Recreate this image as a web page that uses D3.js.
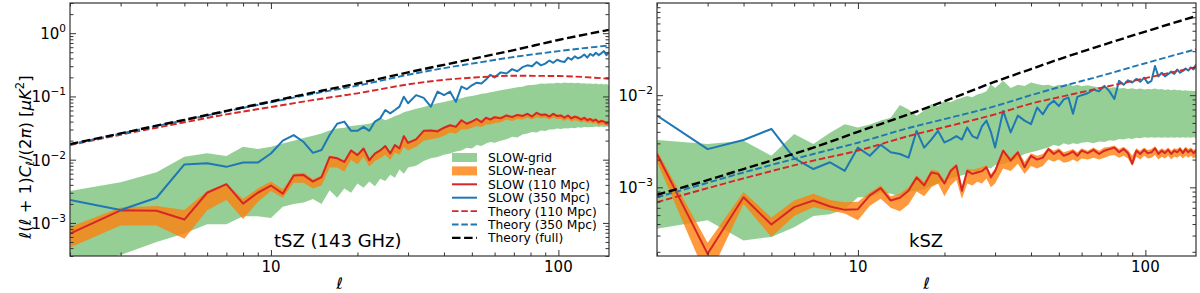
<!DOCTYPE html>
<html><head><meta charset="utf-8">
<script src="https://cdn.jsdelivr.net/npm/d3@7"></script>
<style>
body{margin:0;background:#fff}
svg{display:block}
text{font-family:"DejaVu Sans",sans-serif;fill:#000}
</style>
</head><body>
<svg id="c" width="1200" height="293"></svg>
<script>
// ---------------- DATA ----------------
const ell = [2,3,4,5,6,7,8,9,10,11,12,13,14,15,16,17,18,19,20,21,22,23,24,25,26,27,28,29,30,
  32,34,36,38,40,42,44,46,48,50,52,54,56,58,60,
  63,66,69,72,75,78,81,84,87,90,93,96,99,102,105,108,111,114,117,120,123,126,129,132,135,138,141,144,147,150];

// tSZ (143 GHz)
const tszSlow350 = [2.3e-3,1.6e-3,2.5e-3,8.4e-3,8.8e-3,7.7e-3,9.0e-3,9.0e-3,1.25e-2,2.0e-2,2.45e-2,1.9e-2,1.28e-2,1.42e-2,2.45e-2,3.7e-2,4.0e-2,2.86e-2,2.86e-2,3.3e-2,2.86e-2,4.0e-2,4.5e-2,6.1e-2,5.4e-2,6.1e-2,6.9e-2,9.9e-2,7.8e-2,
  0.105,0.095,0.069,0.119,0.105,0.119,0.082,0.143,0.13,0.15,0.165,0.16,0.185,0.22,0.2,
  0.24,0.23,0.27,0.25,0.29,0.31,0.30,0.35,0.31,0.33,0.37,0.34,0.38,0.36,0.35,0.41,0.38,0.43,0.40,0.42,0.46,0.41,0.47,0.44,0.49,0.45,0.48,0.52,0.45,0.50];
const tszSlow110 = [6.8e-4,1.58e-3,1.56e-3,1.13e-3,3.0e-3,4.1e-3,2.02e-3,3.0e-3,3.9e-3,2.9e-3,5.6e-3,5.7e-3,4.5e-3,5.3e-3,1.1e-2,1.05e-2,9.2e-3,1.4e-2,1.18e-2,1.5e-2,9.8e-3,1.25e-2,1.4e-2,1.64e-2,1.25e-2,1.7e-2,1.5e-2,2.36e-2,1.84e-2,
  0.021,0.0286,0.029,0.028,0.032,0.035,0.033,0.042,0.037,0.040,0.044,0.039,0.046,0.043,0.047,
  0.045,0.050,0.047,0.051,0.049,0.053,0.048,0.055,0.051,0.052,0.048,0.053,0.049,0.050,0.046,0.050,0.045,0.048,0.046,0.043,0.046,0.042,0.044,0.041,0.043,0.039,0.041,0.040,0.037,0.039];
const tszNearLo = [4.1e-4,9.1e-4,9.1e-4,5.6e-4,1.58e-3,2.3e-3,1.15e-3,2.15e-3,3.2e-3,2.5e-3,4.3e-3,4.3e-3,3.5e-3,3.9e-3,7.5e-3,7.5e-3,6.5e-3,1.0e-2,8.5e-3,1.1e-2,7.8e-3,9.5e-3,1.05e-2,1.2e-2,1.0e-2,1.3e-2,1.2e-2,1.6e-2,1.4e-2,
  0.016,0.020,0.021,0.022,0.024,0.027,0.026,0.030,0.030,0.032,0.034,0.033,0.036,0.036,0.038,
  0.039,0.043,0.041,0.044,0.043,0.046,0.043,0.047,0.045,0.046,0.043,0.046,0.044,0.044,0.041,0.044,0.040,0.042,0.041,0.039,0.040,0.038,0.039,0.037,0.038,0.035,0.036,0.036,0.034,0.035];
const tszNearHi = [8.6e-4,1.75e-3,1.85e-3,1.6e-3,3.2e-3,4.2e-3,2.4e-3,3.5e-3,4.5e-3,3.4e-3,6.0e-3,6.2e-3,4.9e-3,5.6e-3,1.15e-2,1.1e-2,9.8e-3,1.45e-2,1.25e-2,1.55e-2,1.05e-2,1.3e-2,1.45e-2,1.7e-2,1.35e-2,1.75e-2,1.6e-2,2.4e-2,1.9e-2,
  0.022,0.029,0.030,0.030,0.033,0.036,0.035,0.043,0.039,0.042,0.045,0.042,0.047,0.046,0.049,
  0.048,0.052,0.050,0.053,0.051,0.055,0.051,0.056,0.053,0.054,0.051,0.055,0.052,0.052,0.049,0.052,0.048,0.050,0.049,0.046,0.048,0.045,0.046,0.044,0.045,0.042,0.043,0.042,0.040,0.041];
const tszGridLo = [2.0e-4,3.1e-4,5.0e-4,6.8e-4,9.5e-4,9.5e-4,1.27e-3,1.27e-3,1.2e-3,1.8e-3,2.0e-3,2.1e-3,2.4e-3,2.0e-3,3.3e-3,2.5e-3,3.5e-3,3.0e-3,4.2e-3,3.6e-3,4.5e-3,3.8e-3,5.0e-3,4.6e-3,5.8e-3,5.2e-3,7.0e-3,6.0e-3,7.5e-3,
  0.008,0.0095,0.0105,0.011,0.012,0.0125,0.0135,0.014,0.0155,0.015,0.017,0.0165,0.018,0.019,0.0185,
  0.020,0.021,0.023,0.0225,0.025,0.026,0.0275,0.027,0.029,0.0285,0.030,0.030,0.031,0.0305,0.0315,0.031,0.032,0.0315,0.0325,0.032,0.033,0.0325,0.033,0.033,0.0335,0.033,0.0335,0.033,0.0335,0.033];
const tszGridHi = [3.2e-3,4.4e-3,6.3e-3,1.11e-2,1.26e-2,1.14e-2,1.6e-2,1.48e-2,1.6e-2,1.8e-2,2.0e-2,2.2e-2,2.4e-2,2.6e-2,2.9e-2,3.1e-2,3.2e-2,3.4e-2,3.5e-2,3.6e-2,3.7e-2,4.0e-2,4.6e-2,4.2e-2,4.5e-2,4.9e-2,5.2e-2,5.6e-2,5.9e-2,
  0.064,0.068,0.074,0.078,0.082,0.086,0.090,0.094,0.099,0.102,0.105,0.110,0.112,0.116,0.120,
  0.125,0.130,0.135,0.140,0.142,0.150,0.152,0.155,0.160,0.158,0.162,0.160,0.165,0.162,0.166,0.163,0.165,0.162,0.164,0.160,0.162,0.158,0.160,0.157,0.160,0.156,0.158,0.155,0.157,0.150];

// kSZ
const kszSlow350 = [6.0e-3,2.6e-3,3.26e-3,4.3e-3,2.08e-3,1.58e-3,1.87e-3,1.51e-3,2.7e-3,2.2e-3,2.9e-3,2.4e-3,2.3e-3,2.1e-3,4.1e-3,2.7e-3,3.3e-3,4.1e-3,3.07e-3,3.3e-3,3.6e-3,3.3e-3,4.46e-3,3.6e-3,3.4e-3,4.6e-3,5.3e-3,4.0e-3,2.7e-3,
  6.76e-3,3.94e-3,6.0e-3,5.3e-3,4.85e-3,7.35e-3,6.2e-3,7.8e-3,8.7e-3,7.6e-3,9.0e-3,9.4e-3,6.3e-3,9.6e-3,1.0e-2,
  1.05e-2,1.15e-2,1.1e-2,1.26e-2,1.1e-2,9.1e-3,1.43e-2,1.3e-2,1.45e-2,1.37e-2,1.5e-2,1.4e-2,1.55e-2,1.35e-2,1.43e-2,2.07e-2,1.6e-2,1.75e-2,1.6e-2,1.69e-2,1.8e-2,1.7e-2,1.9e-2,1.75e-2,1.83e-2,1.95e-2,1.85e-2,2.0e-2,1.9e-2,2.16e-2];
const kszSlow110 = [2.3e-3,1.9e-4,7.8e-4,3.95e-4,6.1e-4,7.2e-4,6.2e-4,5.7e-4,5.8e-4,8.2e-4,9.8e-4,7.2e-4,7.7e-4,9.2e-4,1.28e-3,1.05e-3,1.45e-3,1.4e-3,1.1e-3,1.5e-3,1.72e-3,9.2e-4,1.51e-3,1.4e-3,1.45e-3,1.5e-3,1.65e-3,1.28e-3,1.5e-3,
  2.5e-3,1.95e-3,2.4e-3,1.65e-3,2.2e-3,2.0e-3,2.1e-3,2.6e-3,2.3e-3,2.5e-3,2.2e-3,2.3e-3,2.45e-3,2.2e-3,2.5e-3,
  2.35e-3,2.55e-3,2.3e-3,2.5e-3,2.6e-3,2.7e-3,2.4e-3,2.6e-3,2.35e-3,1.8e-3,2.5e-3,2.3e-3,2.55e-3,2.35e-3,2.4e-3,2.65e-3,2.3e-3,2.5e-3,2.35e-3,2.55e-3,2.3e-3,2.5e-3,2.4e-3,2.6e-3,2.35e-3,2.6e-3,2.4e-3,2.55e-3,2.35e-3,2.5e-3];
const kszNearLo = [1.9e-3,1.0e-4,6.6e-4,2.9e-4,4.9e-4,6.1e-4,5.6e-4,5.2e-4,4.4e-4,6.3e-4,7.5e-4,6.0e-4,5.5e-4,6.5e-4,9.0e-4,8.0e-4,1.0e-3,1.1e-3,8.0e-4,1.05e-3,1.2e-3,7.5e-4,1.1e-3,1.05e-3,1.15e-3,1.1e-3,1.25e-3,1.0e-3,1.1e-3,
  1.6e-3,1.5e-3,1.8e-3,1.4e-3,1.7e-3,1.6e-3,1.7e-3,2.0e-3,1.9e-3,2.0e-3,1.85e-3,1.9e-3,2.0e-3,1.9e-3,2.05e-3,
  2.0e-3,2.1e-3,2.0e-3,2.1e-3,2.2e-3,2.25e-3,2.1e-3,2.2e-3,2.05e-3,1.7e-3,2.15e-3,2.0e-3,2.2e-3,2.05e-3,2.1e-3,2.25e-3,2.0e-3,2.15e-3,2.05e-3,2.2e-3,2.0e-3,2.15e-3,2.1e-3,2.2e-3,2.05e-3,2.2e-3,2.1e-3,2.2e-3,2.05e-3,2.15e-3];
const kszNearHi = [2.5e-3,2.5e-4,8.9e-4,4.7e-4,7.2e-4,8.5e-4,7.3e-4,6.9e-4,7.0e-4,8.8e-4,1.05e-3,8.0e-4,8.5e-4,1.0e-3,1.35e-3,1.15e-3,1.55e-3,1.5e-3,1.2e-3,1.6e-3,1.8e-3,1.05e-3,1.6e-3,1.55e-3,1.6e-3,1.65e-3,1.75e-3,1.4e-3,1.6e-3,
  2.6e-3,2.1e-3,2.5e-3,1.9e-3,2.35e-3,2.2e-3,2.3e-3,2.7e-3,2.5e-3,2.65e-3,2.4e-3,2.5e-3,2.6e-3,2.4e-3,2.65e-3,
  2.5e-3,2.7e-3,2.5e-3,2.7e-3,2.75e-3,2.85e-3,2.6e-3,2.75e-3,2.55e-3,2.2e-3,2.65e-3,2.5e-3,2.7e-3,2.55e-3,2.6e-3,2.8e-3,2.5e-3,2.65e-3,2.55e-3,2.7e-3,2.5e-3,2.65e-3,2.6e-3,2.75e-3,2.55e-3,2.75e-3,2.6e-3,2.7e-3,2.55e-3,2.65e-3];
const kszGridLo = [3.55e-4,4.4e-4,2.65e-4,2.9e-4,3.7e-4,4.9e-4,5.1e-4,5.8e-4,7.8e-4,7.8e-4,8.8e-4,8.5e-4,8.0e-4,9.0e-4,9.2e-4,9.5e-4,1.05e-3,1.1e-3,1.2e-3,1.25e-3,1.3e-3,1.35e-3,1.4e-3,1.5e-3,1.45e-3,1.6e-3,1.65e-3,1.6e-3,1.75e-3,
  1.8e-3,1.9e-3,2.1e-3,2.3e-3,2.4e-3,2.5e-3,2.6e-3,2.7e-3,2.9e-3,2.8e-3,3.0e-3,2.9e-3,3.0e-3,2.95e-3,3.05e-3,
  3.1e-3,3.0e-3,3.15e-3,3.1e-3,3.25e-3,3.2e-3,3.35e-3,3.3e-3,3.4e-3,3.35e-3,3.45e-3,3.4e-3,3.5e-3,3.45e-3,3.5e-3,3.45e-3,3.5e-3,3.45e-3,3.5e-3,3.45e-3,3.5e-3,3.45e-3,3.5e-3,3.45e-3,3.5e-3,3.45e-3,3.5e-3,3.45e-3,3.5e-3,3.45e-3];
const kszGridHi = [3.26e-3,2.95e-3,3.2e-3,2.2e-3,3.8e-3,2.95e-3,3.9e-3,4.85e-3,4.46e-3,4.8e-3,5.3e-3,5.7e-3,7.8e-3,7.0e-3,6.0e-3,6.8e-3,8.0e-3,7.6e-3,8.7e-3,8.4e-3,9.0e-3,9.4e-3,9.8e-3,9.5e-3,1.02e-2,1.05e-2,1.1e-2,1.31e-2,1.2e-2,
  1.43e-2,1.2e-2,1.3e-2,1.26e-2,1.37e-2,1.32e-2,1.28e-2,1.3e-2,1.24e-2,1.3e-2,1.27e-2,1.32e-2,1.26e-2,1.3e-2,1.25e-2,
  1.28e-2,1.24e-2,1.22e-2,1.25e-2,1.2e-2,1.22e-2,1.18e-2,1.2e-2,1.17e-2,1.19e-2,1.16e-2,1.18e-2,1.15e-2,1.17e-2,1.16e-2,1.18e-2,1.15e-2,1.17e-2,1.14e-2,1.16e-2,1.13e-2,1.15e-2,1.13e-2,1.14e-2,1.12e-2,1.13e-2,1.12e-2,1.12e-2,1.11e-2,1.11e-2];

// Theory curves
const ellTheory = [2,3,4,5,7,10,15,20,30,40,50,70,100,150];
const tszTheory110  = [0.0170,0.0248,0.032,0.039,0.052,0.068,0.092,0.112,0.155,0.183,0.198,0.212,0.21,0.19];
const tszTheory350  = [0.0175,0.0258,0.034,0.042,0.058,0.081,0.117,0.148,0.22,0.28,0.33,0.42,0.52,0.64];
const tszTheoryFull = [0.0176,0.026,0.0345,0.0426,0.059,0.083,0.123,0.16,0.24,0.316,0.39,0.54,0.78,1.13];
const kszTheory110  = [6.9e-4,9.8e-4,1.25e-3,1.5e-3,1.95e-3,2.5e-3,3.6e-3,4.5e-3,6.2e-3,8.1e-3,9.5e-3,1.2e-2,1.53e-2,2.02e-2];
const kszTheory350  = [7.8e-4,1.12e-3,1.45e-3,1.75e-3,2.3e-3,3.05e-3,4.4e-3,5.5e-3,7.6e-3,1.0e-2,1.22e-2,1.62e-2,2.22e-2,3.15e-2];
const kszTheoryFull = [8.3e-4,1.2e-3,1.58e-3,1.95e-3,2.7e-3,4.0e-3,6.2e-3,8.6e-3,1.4e-2,1.92e-2,2.45e-2,3.45e-2,4.9e-2,7.2e-2];

const xTicksMajor = [10,100];
const legendLabels = ["SLOW-grid","SLOW-near","SLOW (110 Mpc)","SLOW (350 Mpc)","Theory (110 Mpc)","Theory (350 Mpc)","Theory (full)"];

// ---------------- STYLE ----------------
const C = {green:"#2ca02c", orange:"#ff7f0e", red:"#d62728", blue:"#1f77b4", black:"#000"};
const svg = d3.select("#c");
const yTop = 3, yBottom = 256;
const LW = 2.0, LWD = 1.9, LWK = 2.4;

const panels = [
  {key:"tsz", x0:70, x1:609, yDom:[3e-4,3], yMajor:[1e-3,1e-2,1e-1,1e0], label:"tSZ (143 GHz)", labelX:274,
   gLo:tszGridLo, gHi:tszGridHi, nLo:tszNearLo, nHi:tszNearHi, s110:tszSlow110, s350:tszSlow350,
   t110:tszTheory110, t350:tszTheory350, tFull:tszTheoryFull, legend:true},
  {key:"ksz", x0:657, x1:1196, yDom:[1.8e-4,0.1], yMajor:[1e-3,1e-2], label:"kSZ", labelX:909,
   gLo:kszGridLo, gHi:kszGridHi, nLo:kszNearLo, nHi:kszNearHi, s110:kszSlow110, s350:kszSlow350,
   t110:kszTheory110, t350:kszTheory350, tFull:kszTheoryFull, legend:false}
];

function minorTicks(dom){
  const out=[]; const lo=Math.floor(Math.log10(dom[0])), hi=Math.ceil(Math.log10(dom[1]));
  for(let e=lo;e<=hi;e++) for(let m=2;m<=9;m++){const v=m*Math.pow(10,e); if(v>=dom[0]&&v<=dom[1]) out.push(v);}
  return out;
}

panels.forEach(p=>{
  const x = d3.scaleLog().domain([2,150]).range([p.x0,p.x1]);
  const y = d3.scaleLog().domain(p.yDom).range([yBottom,yTop]);
  const g = svg.append("g");
  const clipId = "clip-"+p.key;
  svg.append("clipPath").attr("id",clipId).append("rect")
    .attr("x",p.x0).attr("y",yTop).attr("width",p.x1-p.x0).attr("height",yBottom-yTop);
  const plot = g.append("g").attr("clip-path",`url(#${clipId})`);
  const idx = d3.range(ell.length);

  const area = (lo,hi)=>d3.area().x(i=>x(ell[i])).y0(i=>y(lo[i])).y1(i=>y(hi[i]));
  plot.append("path").attr("d",area(p.gLo,p.gHi)(idx)).attr("fill",C.green).attr("fill-opacity",0.5);
  plot.append("path").attr("d",area(p.nLo,p.nHi)(idx)).attr("fill",C.orange).attr("fill-opacity",0.8);

  const line = arr=>d3.line().x(i=>x(ell[i])).y(i=>y(arr[i]));
  plot.append("path").attr("d",line(p.s110)(idx)).attr("fill","none").attr("stroke",C.red).attr("stroke-width",LW).attr("stroke-linejoin","round");
  plot.append("path").attr("d",line(p.s350)(idx)).attr("fill","none").attr("stroke",C.blue).attr("stroke-width",LW).attr("stroke-linejoin","round");

  const tIdx = d3.range(ellTheory.length);
  const tline = arr=>d3.line().curve(d3.curveMonotoneX).x(i=>x(ellTheory[i])).y(i=>y(arr[i]));
  plot.append("path").attr("d",tline(p.t110)(tIdx)).attr("fill","none").attr("stroke",C.red).attr("stroke-width",LWD).attr("stroke-dasharray","6.5,2.8");
  plot.append("path").attr("d",tline(p.t350)(tIdx)).attr("fill","none").attr("stroke",C.blue).attr("stroke-width",LWD).attr("stroke-dasharray","6.5,2.8");
  plot.append("path").attr("d",tline(p.tFull)(tIdx)).attr("fill","none").attr("stroke",C.black).attr("stroke-width",LWK).attr("stroke-dasharray","8.5,3.6");

  // axes ticks (inward, all four sides)
  const tickCol="#333";
  const style = sel=>{sel.select(".domain").remove(); sel.selectAll("line").attr("stroke",tickCol).attr("stroke-width",1);};
  const xMinor = minorTicks([2,150]).filter(v=>v!==10&&v!==100);
  const yMinor = minorTicks(p.yDom);
  g.append("g").attr("transform",`translate(0,${yBottom})`).call(d3.axisBottom(x).tickValues(xTicksMajor).tickSize(-6).tickFormat("")).call(style);
  g.append("g").attr("transform",`translate(0,${yBottom})`).call(d3.axisBottom(x).tickValues(xMinor).tickSize(-3.5).tickFormat("")).call(style);
  g.append("g").attr("transform",`translate(0,${yTop})`).call(d3.axisTop(x).tickValues(xTicksMajor).tickSize(-6).tickFormat("")).call(style);
  g.append("g").attr("transform",`translate(0,${yTop})`).call(d3.axisTop(x).tickValues(xMinor).tickSize(-3.5).tickFormat("")).call(style);
  g.append("g").attr("transform",`translate(${p.x0},0)`).call(d3.axisLeft(y).tickValues(p.yMajor).tickSize(-6).tickFormat("")).call(style);
  g.append("g").attr("transform",`translate(${p.x0},0)`).call(d3.axisLeft(y).tickValues(yMinor).tickSize(-3.5).tickFormat("")).call(style);
  g.append("g").attr("transform",`translate(${p.x1},0)`).call(d3.axisRight(y).tickValues(p.yMajor).tickSize(-6).tickFormat("")).call(style);
  g.append("g").attr("transform",`translate(${p.x1},0)`).call(d3.axisRight(y).tickValues(yMinor).tickSize(-3.5).tickFormat("")).call(style);

  g.append("rect").attr("x",p.x0).attr("y",yTop).attr("width",p.x1-p.x0).attr("height",yBottom-yTop)
    .attr("fill","none").attr("stroke","#333").attr("stroke-width",1.2);

  // tick labels
  xTicksMajor.forEach(v=>{
    g.append("text").attr("x",x(v)).attr("y",272).attr("text-anchor","middle").attr("font-size",15).text(String(v));
  });
  p.yMajor.forEach(v=>{
    const e = Math.round(Math.log10(v));
    const t = g.append("text").attr("x",p.x0-4).attr("y",y(v)+6).attr("text-anchor","end").attr("font-size",15);
    t.append("tspan").text("10");
    t.append("tspan").attr("dy",-7).attr("font-size",10.5).text(String(e).replace("-","−"));
  });

  // x axis label
  g.append("text").attr("x",(p.x0+p.x1)/2).attr("y",289).attr("text-anchor","middle")
    .attr("font-size",16).attr("font-style","italic").text("ℓ");

  // panel label
  g.append("text").attr("x",p.labelX).attr("y",247).attr("font-size",18).text(p.label);

  if(p.legend){
    const lg = g.append("g");
    const lx0 = 452, lx1 = 477, tx = 488, ly0 = 157.5, dy = 13.4;
    legendLabels.forEach((lab,i)=>{
      const cy = ly0 + i*dy;
      if(i===0) lg.append("rect").attr("x",lx0).attr("y",cy-4.5).attr("width",lx1-lx0).attr("height",9).attr("fill",C.green).attr("fill-opacity",0.5);
      else if(i===1) lg.append("rect").attr("x",lx0).attr("y",cy-4.5).attr("width",lx1-lx0).attr("height",9).attr("fill",C.orange).attr("fill-opacity",0.8);
      else {
        const col = [null,null,C.red,C.blue,C.red,C.blue,C.black][i];
        const ln = lg.append("line").attr("x1",lx0).attr("x2",lx1).attr("y1",cy).attr("y2",cy).attr("stroke",col)
          .attr("stroke-width", i===6?LWK:(i>=4?LWD:LW));
        if(i>=4) ln.attr("stroke-dasharray", i===6?"8.5,3.6":"6.5,2.8");
      }
      lg.append("text").attr("x",tx).attr("y",cy+4.5).attr("font-size",12.3).text(lab);
    });
  }
});

// y axis title (mathtext-like)
const yt = svg.append("text").attr("transform","translate(31,157) rotate(-90)").attr("text-anchor","middle").attr("font-size",16.5);
yt.append("tspan").attr("font-style","italic").text("ℓ");
yt.append("tspan").text("(");
yt.append("tspan").attr("font-style","italic").text("ℓ");
yt.append("tspan").text(" + 1)");
yt.append("tspan").attr("font-style","italic").text("C");
yt.append("tspan").attr("font-style","italic").attr("font-size",11.5).attr("dy",3).text("ℓ");
yt.append("tspan").attr("dy",-3).text("/(2");
yt.append("tspan").attr("font-style","italic").text("π");
yt.append("tspan").text(") [");
yt.append("tspan").attr("font-style","italic").text("μK");
yt.append("tspan").attr("font-size",11.5).attr("dy",-7).text("2");
yt.append("tspan").attr("dy",7).text("]");
</script>
</body></html>
